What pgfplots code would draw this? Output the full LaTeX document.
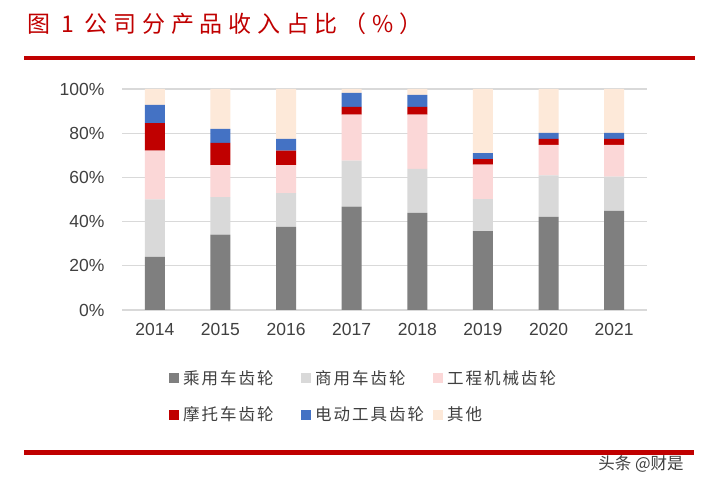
\documentclass[border=0pt]{standalone}
\usepackage{fontspec}
\setmainfont{Liberation Sans}
\newfontfamily\cjk{Noto Sans CJK SC}
\newfontfamily\cjklegend[LetterSpace=12]{Noto Sans CJK SC}
\newfontfamily\cjktitle[LetterSpace=25]{Noto Sans CJK SC}
\usepackage{pgfplots}
\pgfplotsset{compat=1.18}
\pgfplotsset{
  sq/.style = {
    fill = #1, draw = none,
    legend image code/.code = {\fill[#1] (0bp,-5bp) rectangle (10bp,5bp);},
  },
}

\definecolor{titlered}{HTML}{C00000}
\definecolor{gridgray}{HTML}{D9D9D9}
\definecolor{labelgray}{HTML}{404040}
\definecolor{cPass}{HTML}{7F7F7F}
\definecolor{cComm}{HTML}{D9D9D9}
\definecolor{cEng}{HTML}{FBD7D7}
\definecolor{cMoto}{HTML}{C00000}
\definecolor{cTool}{HTML}{4472C4}
\definecolor{cOther}{HTML}{FDE9D9}

\begin{document}
\begin{tikzpicture}
  \useasboundingbox (0,0) rectangle (702bp,488bp);
  \fill[white] (0,0) rectangle (702bp,488bp);

  % title and rules
  \node[anchor=west, inner sep=0pt, text=titlered,
        font=\cjktitle\fontsize{23bp}{27bp}\selectfont] at (27bp,464bp)
        {图 1 公司分产品收入占比（\%）};
  \draw[titlered, line width=4bp] (24bp,430bp) -- (695bp,430bp);
  \draw[titlered, line width=4.5bp] (24bp,35.7bp) -- (694bp,35.7bp);
  \node[inner sep=0pt, text=labelgray, font=\cjk\fontsize{16.5bp}{19bp}\selectfont]
        at (641bp,24bp) {头条 @财是};

  \begin{axis}[
    at = {(122bp,178bp)}, anchor = south west,
    scale only axis, width = 525bp, height = 221bp,
    ybar stacked, bar width = 20bp,
    xmin = -0.5, xmax = 7.5, ymin = 0, ymax = 100,
    xtick = {0,...,7},
    xticklabels = {2014,2015,2016,2017,2018,2019,2020,2021},
    ytick = {0,20,...,100},
    yticklabels = {0\%,20\%,40\%,60\%,80\%,100\%},
    axis line style = {draw=none},
    major tick length = 0pt,
    ymajorgrids,
    grid style = {color=gridgray, line width=1.2bp},
    tick label style = {font=\fontsize{17.5bp}{20bp}\selectfont, text=labelgray},
    yticklabel style = {xshift=-14bp},
    xticklabel style = {yshift=-10bp},
    legend columns = 3,
    legend cell align = left,
    legend style = {
      draw = none, fill = none,
      at = {(axis description cs:0.0895,-0.3914)}, anchor = west,
      inner sep = 0pt, row sep = 21bp, column sep = 0pt,
      nodes = {inner sep=0pt, anchor=west, text=labelgray,
               font=\cjklegend\fontsize{16.5bp}{19bp}\selectfont},
    },
  ]
    \addplot[sq=cPass] coordinates {
      (0,24.0) (1,34.1) (2,37.6) (3,46.8) (4,43.9) (5,35.7) (6,42.1) (7,44.8) };
    \addlegendentry{\makebox[122bp][l]{\hspace{4bp}乘用车齿轮}}
    \addplot[sq=cComm] coordinates {
      (0,26.1) (1,17.0) (2,15.3) (3,20.8) (4,19.9) (5,14.5) (6,18.8) (7,15.5) };
    \addlegendentry{\makebox[122bp][l]{\hspace{4bp}商用车齿轮}}
    \addplot[sq=cEng] coordinates {
      (0,22.0) (1,14.5) (2,12.7) (3,20.8) (4,24.6) (5,15.6) (6,13.8) (7,14.4) };
    \addlegendentry{\makebox[122bp][l]{\hspace{4bp}工程机械齿轮}}
    \addplot[sq=cMoto] coordinates {
      (0,12.5) (1,10.0) (2,6.5) (3,3.5) (4,3.5) (5,2.5) (6,2.7) (7,2.7) };
    \addlegendentry{\makebox[122bp][l]{\hspace{4bp}摩托车齿轮}}
    \addplot[sq=cTool] coordinates {
      (0,8.2) (1,6.3) (2,5.3) (3,6.3) (4,5.4) (5,2.7) (6,2.7) (7,2.7) };
    \addlegendentry{\makebox[122bp][l]{\hspace{4bp}电动工具齿轮}}
    \addplot[sq=cOther] coordinates {
      (0,7.2) (1,18.1) (2,22.6) (3,1.8) (4,2.7) (5,29.0) (6,19.9) (7,19.9) };
    \addlegendentry{\makebox[122bp][l]{\hspace{4bp}其他}}
  \end{axis}
\end{tikzpicture}
\end{document}
